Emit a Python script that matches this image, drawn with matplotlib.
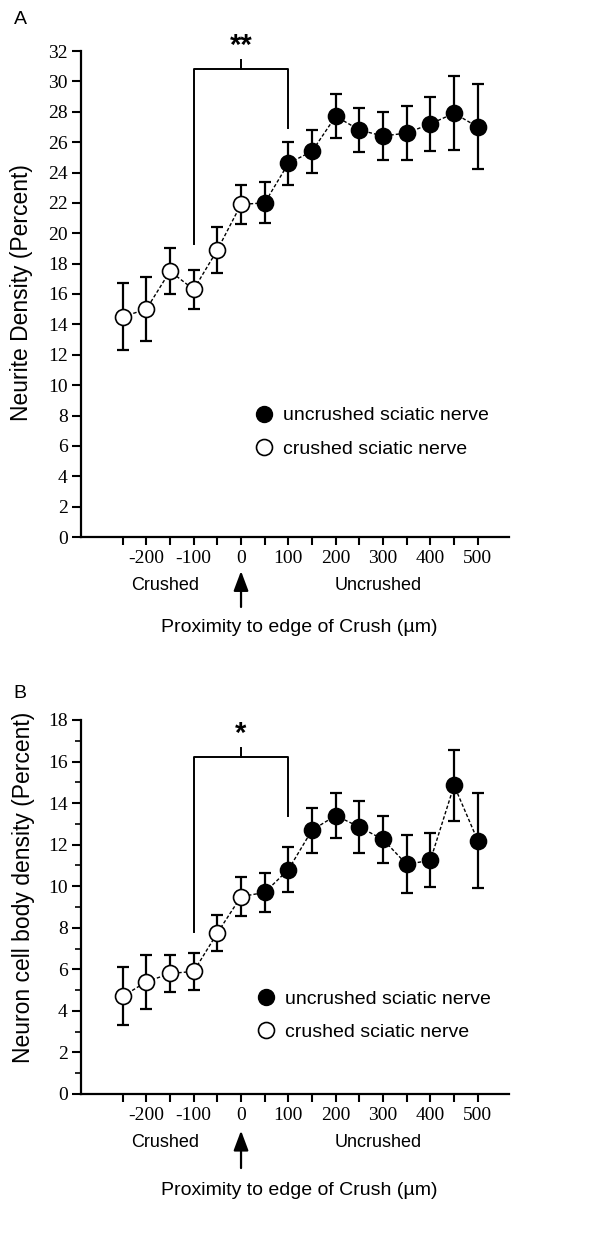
import matplotlib.pyplot as plt
import numpy as np
from matplotlib.lines import Line2D

# distance from the crush edge (um)
positions = [-250, -200, -150, -100, -50, 0, 50, 100, 150, 200, 250, 300, 350, 400, 450, 500]

# panel A: neurite density (percent)
neurite_mean = [14.5, 15.0, 17.5, 16.3, 18.9, 21.9, 22.0, 24.6, 25.4, 27.7, 26.8, 26.4, 26.6, 27.2, 27.9, 27.0]
neurite_err = [2.2, 2.1, 1.5, 1.3, 1.5, 1.3, 1.35, 1.4, 1.4, 1.45, 1.45, 1.6, 1.75, 1.8, 2.45, 2.8]

# panel B: neuron cell body density (percent)
cellbody_mean = [4.7, 5.4, 5.8, 5.9, 7.75, 9.5, 9.7, 10.8, 12.7, 13.4, 12.85, 12.25, 11.05, 11.25, 14.85, 12.2]
cellbody_err = [1.4, 1.3, 0.9, 0.9, 0.85, 0.95, 0.95, 1.1, 1.08, 1.1, 1.25, 1.15, 1.4, 1.3, 1.7, 2.3]

# positions on the crushed side are drawn as open circles
crushed = [p <= 0 for p in positions]

x_major = [-200, -100, 0, 100, 200, 300, 400, 500]
x_minor = [-250, -150, -50, 50, 150, 250, 350, 450]

SANS = 'Liberation Sans'
SERIF = 'Liberation Serif'

W, H = 600, 1233
fig = plt.figure(figsize=(W / 100, H / 100), dpi=100)


def px_axes(left, right, top, bottom):
    return fig.add_axes([left / W, 1 - bottom / H, (right - left) / W, (bottom - top) / H])


def draw_panel(ax, means, errs, ymax, ymajor, yminor, ylabel, ylabel_xy, bracket, stars,
               legend_xy, crush_y, arrow_y, xlabel_y):
    means = np.array(means)
    errs = np.array(errs)
    pos = np.array(positions)
    mask = np.array(crushed)

    ax.plot(pos, means, color='black', lw=1.0, ls=(0, (2.5, 1.5)), zorder=1)
    ax.errorbar(pos, means, yerr=errs, fmt='none', ecolor='black', elinewidth=1.6,
                capsize=4.5, capthick=1.6, zorder=2)
    ax.plot(pos[~mask], means[~mask], 'o', ms=11.5, mfc='black', mec='black', mew=1.2, zorder=3)
    ax.plot(pos[mask], means[mask], 'o', ms=11.5, mfc='white', mec='black', mew=1.2, zorder=3)

    ax.set_xlim(-338, 566)
    ax.set_ylim(0, ymax)
    for s in ['top', 'right']:
        ax.spines[s].set_visible(False)
    for s in ['left', 'bottom']:
        ax.spines[s].set_linewidth(1.6)

    ax.set_xticks(x_major)
    ax.set_xticks(x_minor, minor=True)
    ax.set_xticklabels([str(v) for v in x_major], family=SERIF, fontsize=14)
    ax.set_yticks(ymajor)
    ax.set_yticks(yminor, minor=True)
    ax.set_yticklabels([str(v) for v in ymajor], family=SERIF, fontsize=14)
    ax.tick_params(axis='x', which='both', direction='out', length=5.5, width=1.5, pad=4)
    ax.tick_params(axis='y', which='major', direction='out', length=6.5, width=1.5, pad=3)
    ax.tick_params(axis='y', which='minor', direction='out', length=4, width=1.2)

    ax.set_ylabel(ylabel, family=SANS, fontsize=16.5)
    ax.yaxis.set_label_coords(*ylabel_xy)

    # significance bracket
    bx0, bx1, btop, bl, br, btick = bracket
    ax.plot([bx0, bx0, bx1, bx1], [bl, btop, btop, br], color='black', lw=1.4, clip_on=False)
    ax.plot([0, 0], [btop, btick], color='black', lw=1.4, clip_on=False)
    ax.text(0, btick, stars, ha='center', va='bottom', fontsize=21, fontweight='bold',
            family=SANS)

    handles = [Line2D([], [], marker='o', ls='none', ms=11.5, mfc='black', mec='black'),
               Line2D([], [], marker='o', ls='none', ms=11.5, mfc='white', mec='black', mew=1.2)]
    ax.legend(handles, ['uncrushed sciatic nerve', 'crushed sciatic nerve'],
              loc='upper left', bbox_to_anchor=legend_xy, frameon=False,
              prop={'family': SANS, 'size': 14}, handlelength=1.0, handletextpad=0.5,
              labelspacing=0.8, borderpad=0, borderaxespad=0)

    trans = ax.get_xaxis_transform()
    ax.text(-160, crush_y, 'Crushed', transform=trans, ha='center', va='center',
            family=SANS, fontsize=13)
    ax.text(290, crush_y, 'Uncrushed', transform=trans, ha='center', va='center',
            family=SANS, fontsize=13)
    ax.annotate('', xy=(0, arrow_y[0]), xycoords=trans, xytext=(0, arrow_y[1]),
                textcoords=trans,
                arrowprops=dict(arrowstyle='-|>,head_length=1.2,head_width=0.45',
                                color='black', lw=1.6, shrinkA=0, shrinkB=0))
    ax.text(0.51, xlabel_y, 'Proximity to edge of Crush (\u00b5m)', transform=ax.transAxes,
            ha='center', va='center', family=SANS, fontsize=14)


axA = px_axes(81, 509, 51, 537)
draw_panel(axA, neurite_mean, neurite_err, 32,
           list(range(0, 33, 2)), [],
           'Neurite Density (Percent)', (-0.112, 0.502),
           (-100, 100, 30.8, 19.3, 26.9, 31.4), '**', (0.404, 0.268),
           -0.099, (-0.070, -0.144), -0.187)

axB = px_axes(81, 509, 720, 1094)
draw_panel(axB, cellbody_mean, cellbody_err, 18,
           list(range(0, 19, 2)), list(range(1, 18, 2)),
           'Neuron cell body density (Percent)', (-0.107, 0.553),
           (-100, 100, 16.2, 7.8, 13.4, 16.65), '*', (0.409, 0.277),
           -0.131, (-0.098, -0.198), -0.257)

fig.text(20 / W, 1 - 20 / H, 'A', family=SANS, fontsize=14, ha='center', va='center')
fig.text(20 / W, 1 - 693 / H, 'B', family=SANS, fontsize=14, ha='center', va='center')

fig.savefig('out.png', dpi=100, facecolor='white')
